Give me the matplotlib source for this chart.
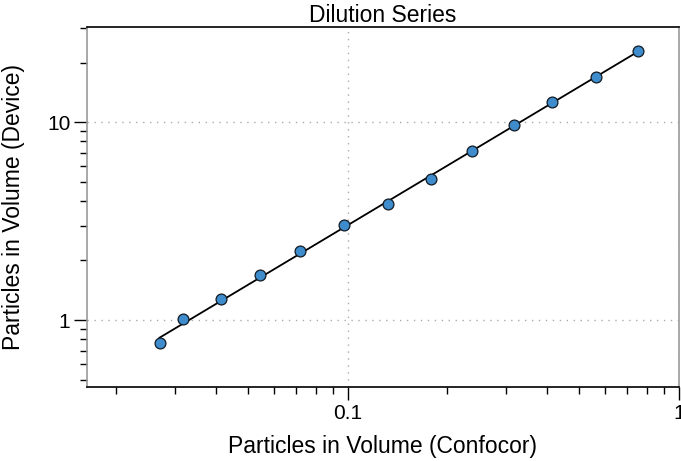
from matplotlib import pyplot as plt
from matplotlib.ticker import LogLocator, NullFormatter, FixedLocator, FixedFormatter
import numpy as np

plt.rcParams['font.family'] = ['Liberation Sans', 'DejaVu Sans']

# measured points
confocor = [0.0270, 0.0317, 0.0415, 0.0543, 0.0718, 0.0974, 0.1321,
            0.1781, 0.2369, 0.3181, 0.4150, 0.5625, 0.7535]
device = [0.762, 1.01, 1.273, 1.689, 2.242, 3.024, 3.848,
          5.149, 7.181, 9.656, 12.71, 17.01, 22.94]

# fit line end points
fit_x = [0.0270, 0.7535]
fit_y = [0.814, 22.76]

fig = plt.figure(figsize=(6.81, 4.61), dpi=100)
ax = fig.add_axes([87/681, 1-387.3/461, (678.7-87)/681, (387.3-27.3)/461])

ax.set_xscale('log')
ax.set_yscale('log')
ax.set_xlim(0.0163, 1)
ax.set_ylim(0.457, 30.2)

ax.plot(fit_x, fit_y, color='black', lw=1.3, zorder=3)
ax.plot(confocor, device, 'o', ms=7.8, mfc='#3e8ccc', mec='#111a22', mew=0.9, zorder=4)

ax.xaxis.set_major_locator(FixedLocator([0.1, 1]))
ax.xaxis.set_major_formatter(FixedFormatter(['0.1', '1']))
ax.xaxis.set_minor_locator(LogLocator(base=10, subs=np.arange(2, 10)))
ax.xaxis.set_minor_formatter(NullFormatter())
ax.yaxis.set_major_locator(FixedLocator([1, 10]))
ax.yaxis.set_major_formatter(FixedFormatter(['1', '10']))
ax.yaxis.set_minor_locator(LogLocator(base=10, subs=np.arange(2, 10)))
ax.yaxis.set_minor_formatter(NullFormatter())

ax.tick_params(which='major', direction='out', length=9.5, width=1, labelsize=15, pad=2.5, color='black')
ax.tick_params(which='minor', direction='out', length=5, width=1, color='black')
ax.tick_params(top=False, right=False)

ax.grid(True, which='major', color='#aaaaaa', linestyle=(0, (1, 4)), lw=1)

ax.spines['left'].set_color('#999999')
ax.spines['right'].set_color('#999999')
ax.spines['top'].set_color('black')
ax.spines['bottom'].set_color('black')
for s in ax.spines.values():
    s.set_linewidth(1.2)

ax.set_title("Dilution Series", fontsize=16.5, pad=3)
ax.set_xlabel("Particles in Volume (Confocor)", fontsize=16.5, labelpad=9)
ax.set_ylabel("Particles in Volume (Device)", fontsize=16.5, labelpad=16)

plt.savefig('out.png', dpi=100)
